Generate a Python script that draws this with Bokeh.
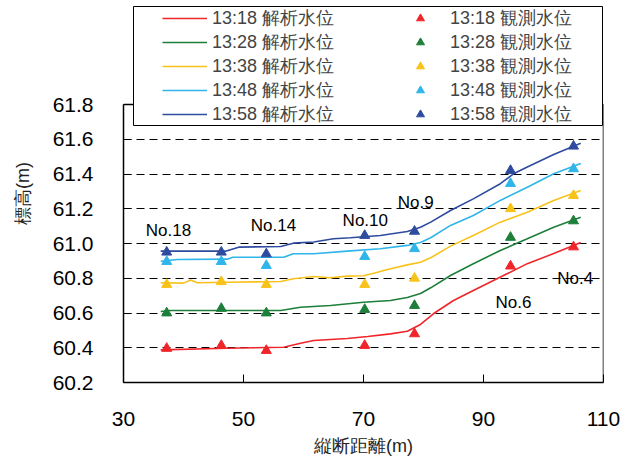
from bokeh.plotting import figure
from bokeh.models import (Range1d, FixedTicker, NumeralTickFormatter, Legend,
                          LegendItem, ColumnDataSource, BoxAnnotation)
from bokeh.core.properties import value
from bokeh.embed import file_html
from bokeh.resources import INLINE

# ---------------- data ----------------
times = ["13:18", "13:28", "13:38", "13:48", "13:58"]
colors = ["#f0252a", "#1d7f3a", "#f9c21a", "#2fb5ea", "#2e4b9f"]

# analysed water level (解析水位)
calc_x_1318 = [36.2, 47.3, 56.7, 59.5, 61.7, 67.3, 70.7, 74.5, 77.3, 79.5, 81.7, 85.0, 88.3, 94.0, 97.3, 101.7, 105.0, 106.2]
calc_y_1318 = [60.388, 60.397, 60.403, 60.426, 60.442, 60.453, 60.465, 60.480, 60.495, 60.534, 60.597, 60.672, 60.730, 60.827, 60.884, 60.942, 60.988, 61.006]

calc_x_1328 = [36.2, 37.8, 56.2, 59.5, 64.5, 70.0, 74.5, 77.3, 79.5, 81.2, 84.5, 88.3, 92.8, 97.3, 101.7, 106.2]
calc_y_1328 = [60.609, 60.614, 60.614, 60.633, 60.643, 60.662, 60.672, 60.689, 60.712, 60.745, 60.816, 60.883, 60.960, 61.027, 61.094, 61.151]

calc_x_1338 = [36.2, 40.0, 41.2, 42.3, 47.3, 56.2, 58.3, 61.7, 64.5, 67.3, 70.0, 71.7, 74.0, 77.3, 79.5, 81.2, 84.5, 88.3, 92.8, 97.3, 101.7, 106.2]
calc_y_1338 = [60.774, 60.772, 60.790, 60.774, 60.777, 60.781, 60.797, 60.810, 60.803, 60.812, 60.814, 60.829, 60.850, 60.877, 60.892, 60.918, 60.985, 61.046, 61.123, 61.180, 61.248, 61.305]

calc_x_1348 = [36.2, 39.0, 47.3, 48.2, 56.7, 58.3, 61.7, 67.3, 72.8, 77.3, 79.5, 81.2, 84.5, 88.3, 92.8, 97.3, 101.7, 106.2]
calc_y_1348 = [60.898, 60.908, 60.910, 60.921, 60.921, 60.941, 60.941, 60.956, 60.970, 60.989, 61.006, 61.033, 61.104, 61.161, 61.248, 61.324, 61.401, 61.460]

calc_x_1358 = [36.2, 47.0, 49.2, 56.2, 58.3, 61.7, 65.0, 67.8, 72.8, 77.3, 79.5, 81.2, 84.5, 88.3, 92.8, 95.0, 97.3, 101.7, 106.2]
calc_y_1358 = [60.956, 60.956, 60.979, 60.983, 61.002, 61.009, 61.027, 61.033, 61.046, 61.069, 61.094, 61.123, 61.190, 61.257, 61.344, 61.401, 61.440, 61.512, 61.577]

# observed water level (観測水位)
obs_x = [37.2, 46.3, 53.8, 70.2, 78.5, 94.5, 105.0]
obs_y_1318 = [60.396, 60.413, 60.384, 60.413, 60.480, 60.870, 60.980]
obs_y_1328 = [60.600, 60.626, 60.600, 60.620, 60.643, 61.035, 61.130]
obs_y_1338 = [60.764, 60.780, 60.764, 60.764, 60.800, 61.200, 61.276]
obs_y_1348 = [60.896, 60.896, 60.873, 60.925, 60.970, 61.345, 61.430]
obs_y_1358 = [60.950, 60.950, 60.940, 61.046, 61.070, 61.420, 61.560]

# section names
section_names = ["No.18", "No.14", "No.10", "No.9", "No.6", "No.4"]
section_x = [37.5, 55.0, 70.3, 78.7, 95.0, 105.3]
section_y = [61.075, 61.104, 61.130, 61.236, 60.660, 60.800]

x_ticks = [30, 50, 70, 90, 110]
y_ticks = [60.2, 60.4, 60.6, 60.8, 61.0, 61.2, 61.4, 61.6, 61.8]

calc_x = [calc_x_1318, calc_x_1328, calc_x_1338, calc_x_1348, calc_x_1358]
calc_y = [calc_y_1318, calc_y_1328, calc_y_1338, calc_y_1348, calc_y_1358]
obs_y = [obs_y_1318, obs_y_1328, obs_y_1338, obs_y_1348, obs_y_1358]

# ---------------- figure ----------------
LAT = "Liberation Sans"
FRAME_H = 278           # px between 60.2 and 61.8
HEAD = 100              # px of legend room above 61.8
y_top = y_ticks[-1] + HEAD / FRAME_H * (y_ticks[-1] - y_ticks[0])

p = figure(width=630, height=466, output_backend="svg", toolbar_location=None,
           x_range=Range1d(x_ticks[0], x_ticks[-1]),
           y_range=Range1d(y_ticks[0], y_top),
           min_border_left=123, min_border_right=27, min_border_top=4,
           min_border_bottom=84)
p.background_fill_color = "white"
p.border_fill_color = "white"
p.outline_line_color = None

p.xgrid.visible = False
p.ygrid.grid_line_color = "black"
p.ygrid.grid_line_dash = "8 5"
p.ygrid.grid_line_width = 1

p.xaxis.ticker = FixedTicker(ticks=x_ticks)
p.yaxis.ticker = FixedTicker(ticks=y_ticks)
p.yaxis.formatter = NumeralTickFormatter(format="0.0")
p.yaxis.bounds = (y_ticks[0], y_ticks[-1])
for ax in (p.xaxis[0], p.yaxis[0]):
    ax.axis_line_color = "black"
    ax.axis_line_width = 1.5
    ax.major_tick_line_color = "black"
    ax.major_tick_in = 8
    ax.major_tick_out = 0
    ax.minor_tick_in = 0
    ax.minor_tick_out = 0
    ax.major_label_text_font = LAT
    ax.major_label_text_font_size = "21px"
    ax.major_label_text_color = "black"
    ax.axis_label_text_font = LAT
    ax.axis_label_text_font_size = "18px"
    ax.axis_label_text_font_style = "normal"
    ax.axis_label_text_color = "#222222"
p.xaxis.major_label_standoff = 29
p.yaxis.major_label_standoff = 30
p.xaxis.axis_label = "縦断距離(m)"
p.yaxis.axis_label = "標高(m)"
p.xaxis.axis_label_standoff = 7
p.yaxis.axis_label_standoff = 17

# frame top and right edges
p.segment(x0=[x_ticks[0], x_ticks[-1]], y0=[y_ticks[-1], y_ticks[0]],
          x1=[x_ticks[-1], x_ticks[-1]], y1=[y_ticks[-1], y_ticks[-1]],
          line_color="black", line_width=1.5)

line_items = []
mark_items = []
for t, c, cx, cy in zip(times, colors, calc_x, calc_y):
    r = p.line(cx, cy, line_color=c, line_width=1.6)
    line_items.append(LegendItem(label=t + " 解析水位", renderers=[r]))
for t, c, oy in zip(times, colors, obs_y):
    m = p.scatter(obs_x, oy, marker="triangle", size=10, fill_color=c,
                  line_color=c)
    mark_items.append(LegendItem(label=t + " 観測水位", renderers=[m]))

src = ColumnDataSource(dict(x=section_x, y=section_y, t=section_names))
p.text(x="x", y="y", text="t", source=src, text_align="center",
       text_baseline="middle", text_font=value(LAT),
       text_font_size="17px", text_color="black")

# legend frame
box = BoxAnnotation(left=10, right=479, bottom=257, top=376,
                    left_units="screen", right_units="screen",
                    bottom_units="screen", top_units="screen",
                    fill_color="white", fill_alpha=1.0, line_color="black",
                    line_alpha=1.0, line_width=1)
p.add_layout(box)
leg_a = Legend(items=line_items, location=(39, 256), margin=0, padding=0,
               glyph_width=45, glyph_height=20, label_height=20,
               label_standoff=5, spacing=-1, border_line_alpha=0,
               background_fill_alpha=0, label_text_font=LAT,
               label_text_font_size="18px")
leg_b = Legend(items=mark_items, location=(287, 256), margin=0, padding=0,
               glyph_width=20, glyph_height=20, label_height=20,
               label_standoff=20, spacing=-1, border_line_alpha=0,
               background_fill_alpha=0, label_text_font=LAT,
               label_text_font_size="18px")
p.add_layout(leg_a, "center")
p.add_layout(leg_b, "center")

open("out.html", "w").write(file_html(p, INLINE))
